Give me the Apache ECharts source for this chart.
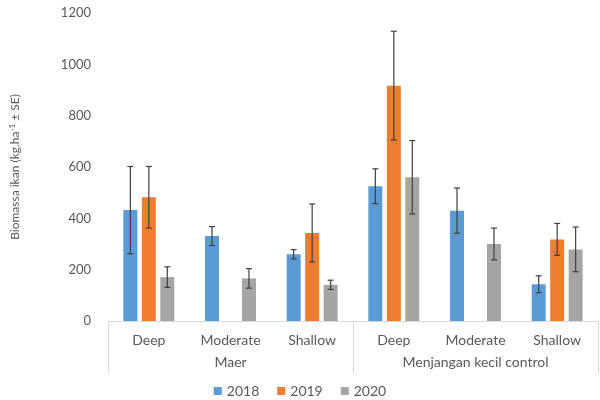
<!DOCTYPE html>
<html>
<head>
<meta charset="utf-8">
<script src="https://cdn.jsdelivr.net/npm/echarts@6/dist/echarts.min.js"></script>
<style>
  html, body { margin: 0; padding: 0; background: #fff; }
  #chart { width: 600px; height: 400px; }
</style>
</head>
<body>
<div id="chart"></div>
<script>
// Sites and depth strata
const sites = ['Maer', 'Menjangan kecil control'];
const depths = ['Deep', 'Moderate', 'Shallow', 'Deep', 'Moderate', 'Shallow'];
const years = ['2018', '2019', '2020'];

// Fish biomass (kg/ha), mean per stratum
const biomass2018 = [432, 331, 260, 525, 430, 143];
const biomass2019 = [482, null, 343, 917, null, 318];
const biomass2020 = [171, 166, 141, 560, 300, 279];

// Standard errors
const se2018 = [170, 37, 18, 68, 88, 33];
const se2019 = [120, null, 113, 212, null, 62];
const se2020 = [40, 38, 18, 143, 62, 87];

// Y axis ticks
const yMin = 0, yMax = 1200, yStep = 200;

const colors = ['#5B9BD5', '#ED7D31', '#A5A5A5'];
const means = [biomass2018, biomass2019, biomass2020];
const errors = [se2018, se2019, se2020];

const BAR_W = 14;
const BAR_GAP = 0.32;
const FONT = 'Lato, "Open Sans", sans-serif';
const TXT = '#595959';

const chart = echarts.init(document.getElementById('chart'), null, { renderer: 'canvas' });

function errorSeries(k) {
  const data = means[k].map((m, i) => m == null ? null : [i, m - errors[k][i], m + errors[k][i]]);
  const offset = (k - 1) * BAR_W * (1 + BAR_GAP);
  return {
    type: 'custom',
    name: years[k] + ' SE',
    xAxisIndex: 0,
    yAxisIndex: 0,
    z: 10,
    silent: true,
    data: data.filter(d => d != null),
    renderItem: function (params, api) {
      const x = api.coord([api.value(0), 0])[0] + offset;
      const lo = api.coord([api.value(0), api.value(1)])[1];
      const hi = api.coord([api.value(0), api.value(2)])[1];
      const cap = 3;
      const style = { stroke: '#3f3f3f', lineWidth: 1.2 };
      return {
        type: 'group',
        children: [
          { type: 'line', shape: { x1: x, y1: hi, x2: x, y2: lo }, style: style },
          { type: 'line', shape: { x1: x - cap, y1: hi, x2: x + cap, y2: hi }, style: style },
          { type: 'line', shape: { x1: x - cap, y1: lo, x2: x + cap, y2: lo }, style: style }
        ]
      };
    }
  };
}

const barSeries = years.map((y, k) => ({
  type: 'bar',
  name: y,
  xAxisIndex: 0,
  yAxisIndex: 0,
  data: means[k],
  barWidth: BAR_W,
  barGap: (BAR_GAP * 100) + '%',
  itemStyle: { color: colors[k] }
}));

chart.setOption({
  animation: false,
  backgroundColor: '#ffffff',
  textStyle: { fontFamily: FONT },
  grid: { left: 105, right: 2, top: 13, bottom: 79, containLabel: false },
  legend: {
    data: years,
    bottom: -3,
    left: 'center',
    itemWidth: 8,
    itemHeight: 8,
    itemGap: 18,
    icon: 'rect',
    textStyle: { color: TXT, fontSize: 14, fontFamily: FONT }
  },
  xAxis: [
    {
      type: 'category',
      data: depths,
      position: 'bottom',
      axisLine: { show: true, lineStyle: { color: '#d9d9d9', width: 1 } },
      axisTick: { show: false },
      axisLabel: { color: TXT, fontSize: 14, margin: 12, fontFamily: FONT, interval: 0 },
      splitLine: { show: false }
    },
    {
      type: 'category',
      data: sites,
      position: 'bottom',
      axisLine: { show: false },
      axisTick: { show: true, length: 52, inside: false, lineStyle: { color: '#d9d9d9', width: 1 } },
      axisLabel: { color: TXT, fontSize: 14, margin: 34, fontFamily: FONT, interval: 0 },
      splitLine: { show: false }
    }
  ],
  yAxis: {
    type: 'value',
    min: yMin,
    max: yMax,
    interval: yStep,
    name: '{a|Biomassa ikan (kg.ha}{s|-1}{a| ± SE)}',
    nameLocation: 'middle',
    nameGap: 86,
    nameRotate: 90,
    nameTextStyle: {
      rich: {
        a: { color: TXT, fontSize: 12, fontFamily: FONT },
        s: { color: TXT, fontSize: 8, fontFamily: FONT, verticalAlign: 'top', padding: [0, 0, 6, 0] }
      }
    },
    axisLine: { show: false },
    axisTick: { show: false },
    splitLine: { show: false },
    axisLabel: { color: TXT, fontSize: 13, margin: 17, fontFamily: FONT, formatter: v => String(v) }
  },
  series: barSeries.concat([0, 1, 2].map(errorSeries))
});
</script>
</body>
</html>
